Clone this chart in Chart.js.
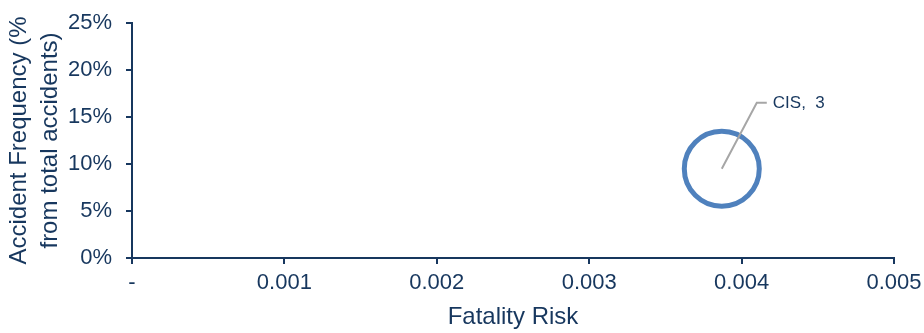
<!DOCTYPE html>
<html>
<head>
<meta charset="utf-8">
<script src="https://cdn.jsdelivr.net/npm/chart.js@4"></script>
<style>
  html, body { margin: 0; padding: 0; background: #fff; }
  #wrap { width: 924px; height: 333px; }
</style>
</head>
<body>
<div id="wrap"><canvas id="bubbleChart" width="924" height="333"></canvas></div>
<script>
  // data
  var regions = ["CIS"];
  var fatalityRisk = [0.00387];      // x
  var accidentFreq = [9.5];          // y, in %
  var bubbleSize = [3];              // shown in the label
  var xTicks = [0, 0.001, 0.002, 0.003, 0.004, 0.005];
  var yTicks = [0, 5, 10, 15, 20, 25];

  var NAVY = "#17375E", BLUE = "#4F81BD", GREY = "#A6A6A6";
  var FONT = "'Liberation Sans', Arial, sans-serif";

  // leader line + "CIS, 3" label
  var bubbleLabels = {
    id: "bubbleLabels",
    afterDatasetsDraw: function (chart) {
      var ctx = chart.ctx;
      var meta = chart.getDatasetMeta(0);
      meta.data.forEach(function (pt, i) {
        var x = pt.x, y = pt.y;
        ctx.save();
        ctx.strokeStyle = GREY;
        ctx.lineWidth = 2;
        ctx.beginPath();
        ctx.moveTo(x, y);
        ctx.lineTo(x + 35, y - 66);
        ctx.lineTo(x + 45, y - 66);
        ctx.stroke();
        ctx.fillStyle = NAVY;
        ctx.font = "17px " + FONT;
        ctx.textAlign = "left";
        ctx.textBaseline = "middle";
        ctx.fillText(regions[i] + ",  " + bubbleSize[i], x + 51, y - 65);
        ctx.restore();
      });
    }
  };

  var points = fatalityRisk.map(function (v, i) {
    return { x: v, y: accidentFreq[i], r: bubbleSize[i] * 12.5 };
  });

  new Chart(document.getElementById("bubbleChart"), {
    type: "bubble",
    data: {
      datasets: [{
        label: regions[0],
        data: points,
        backgroundColor: "rgba(0,0,0,0)",
        borderColor: BLUE,
        borderWidth: 5,
        hoverBorderWidth: 5
      }]
    },
    options: {
      responsive: false,
      animation: false,
      events: [],
      layout: { autoPadding: false, padding: { top: 23, right: 30, left: 0, bottom: 0 } },
      plugins: { legend: { display: false }, tooltip: { enabled: false } },
      scales: {
        x: {
          type: "linear", min: 0, max: 0.005,
          afterBuildTicks: function (s) { s.ticks = xTicks.map(function (v) { return { value: v }; }); },
          afterFit: function (s) { s.height = 75; s.paddingLeft = 0; s.paddingRight = 0; },
          border: { display: true, color: NAVY, width: 2 },
          grid: { drawOnChartArea: false, drawTicks: true, tickLength: 6, color: NAVY, lineWidth: 2 },
          ticks: {
            color: NAVY, padding: 6, maxRotation: 0,
            font: { family: FONT, size: 22 },
            callback: function (v) { return v === 0 ? "-" : v.toFixed(3); }
          },
          title: { display: true, text: "Fatality Risk", color: NAVY, font: { family: FONT, size: 24 }, padding: { top: 0, bottom: 1 } }
        },
        y: {
          type: "linear", min: 0, max: 25,
          afterBuildTicks: function (s) { s.ticks = yTicks.map(function (v) { return { value: v }; }); },
          afterFit: function (s) { s.width = 132; s.paddingTop = 0; s.paddingBottom = 0; },
          border: { display: true, color: NAVY, width: 2 },
          grid: { drawOnChartArea: false, drawTicks: true, tickLength: 6, color: NAVY, lineWidth: 2 },
          ticks: {
            color: NAVY, padding: 14,
            font: { family: FONT, size: 22 },
            callback: function (v) { return v + "%"; }
          },
          title: {
            display: true, text: ["Accident Frequency (%", "from total accidents)"],
            color: NAVY, font: { family: FONT, size: 24, lineHeight: 1.3 }, padding: { top: 4, bottom: 0 }
          }
        }
      }
    },
    plugins: [bubbleLabels]
  });
</script>
</body>
</html>
